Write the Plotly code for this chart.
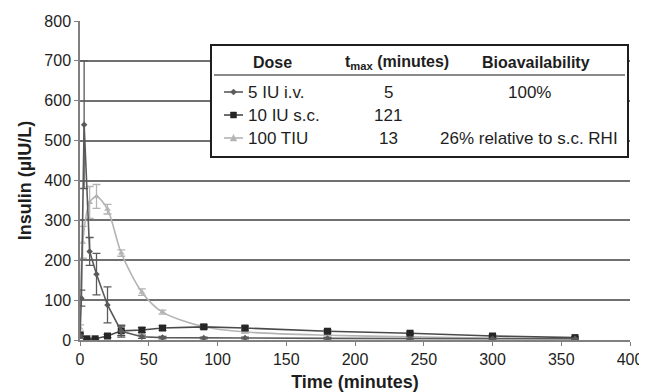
import plotly.graph_objects as go

# ---- data ----
iv_time = [0, 1, 3, 7, 12, 20, 30, 45, 60, 90, 120, 180, 240, 300, 360]
iv_insulin = [10, 105, 540, 222, 165, 88, 22, 8, 6, 5, 5, 4, 3, 3, 3]
iv_err = [4, 20, 160, 35, 52, 45, 15, 4, 3, 2, 2, 2, 1, 1, 1]

sc_time = [0, 5, 11, 20, 30, 45, 60, 90, 120, 180, 240, 300, 360]
sc_insulin = [12, 3, 3, 10, 23, 25, 30, 33, 30, 22, 17, 10, 6]
sc_err = [5, 2, 2, 4, 12, 6, 6, 5, 5, 4, 3, 3, 2]

tiu_time = [0, 2, 7, 12, 20, 30, 45, 60, 90, 120, 180, 240, 300, 360]
tiu_insulin = [30, 245, 345, 360, 328, 218, 120, 70, 33, 20, 12, 8, 5, 3]
tiu_err = [8, 40, 40, 30, 12, 8, 8, 5, 4, 3, 2, 2, 2, 1]

series_names = ["5 IU i.v.", "10 IU s.c.", "100 TIU"]
tmax_values = ["5", "121", "13"]
bioavail = ["100%", "", "26% relative to s.c. RHI"]
table_headers = ["Dose", "t<sub>max</sub> (minutes)", "Bioavailability"]

x_ticks = [0, 50, 100, 150, 200, 250, 300, 350, 400]
y_ticks = [0, 100, 200, 300, 400, 500, 600, 700, 800]

# ---- styles ----
IV_COL = "#5a5a5a"
SC_COL = "#262626"
SC_LINE = "#4a4a4a"
TIU_COL = "#b4b4b4"
GRID = "#707070"
FONT = "Liberation Sans, Arial, sans-serif"
TXT = "#1e1e1e"

# the page body adds an 8px margin, so the figure is made 8px smaller
OFF = 8
W, H = 647 - OFF, 392 - OFF
PX0, PX1, PY0, PY1 = 80, 630, 21, 340   # plot area in screenshot pixels
L, T = PX0 - OFF, PY0 - OFF
R, B = W - (PX1 - OFF), H - (PY1 - OFF)
PW, PH = PX1 - PX0, PY1 - PY0


def px(x):
    return (x - PX0) / PW


def py(y):
    return (PY1 - y) / PH


fig = go.Figure()

fig.add_trace(go.Scatter(
    x=tiu_time, y=tiu_insulin, mode="lines+markers", name=series_names[2],
    line=dict(color=TIU_COL, width=1.6, shape="spline", smoothing=0.8),
    marker=dict(symbol="triangle-up", size=6, color=TIU_COL),
    error_y=dict(type="data", array=tiu_err, color=TIU_COL, thickness=1.3, width=4),
))
fig.add_trace(go.Scatter(
    x=sc_time, y=sc_insulin, mode="lines+markers", name=series_names[1],
    line=dict(color=SC_LINE, width=1.6),
    marker=dict(symbol="square", size=7, color=SC_COL),
    error_y=dict(type="data", array=sc_err, color=SC_LINE, thickness=1.2, width=4),
))
fig.add_trace(go.Scatter(
    x=iv_time, y=iv_insulin, mode="lines+markers", name=series_names[0],
    line=dict(color=IV_COL, width=1.6),
    marker=dict(symbol="diamond", size=5, color=IV_COL),
    error_y=dict(type="data", array=iv_err, color=IV_COL, thickness=1.3, width=4),
))

shapes = []
annotations = []

# table box
bx0, bx1, by0, by1 = 211, 628, 45, 157
shapes.append(dict(type="rect", xref="paper", yref="paper",
                   x0=px(bx0), x1=px(bx1), y0=py(by1), y1=py(by0),
                   fillcolor="white", line=dict(color="#1e1e1e", width=2), layer="above"))
shapes.append(dict(type="line", xref="paper", yref="paper",
                   x0=px(214), x1=px(625), y0=py(75), y1=py(75),
                   line=dict(color="#8a8a8a", width=2), layer="above"))

col_x = [272, 397, 536]
header_y = 62
row_y = [92, 115, 138]

for cx, txt in zip(col_x, table_headers):
    annotations.append(dict(xref="paper", yref="paper", x=px(cx), y=py(header_y),
                            text="<b>" + txt + "</b>", showarrow=False,
                            font=dict(family=FONT, size=16, color=TXT),
                            xanchor="center", yanchor="middle"))

sym_cols = [(IV_COL, IV_COL), (SC_LINE, SC_COL), (TIU_COL, TIU_COL)]
for i, ry in enumerate(row_y):
    lc, mc = sym_cols[i]
    shapes.append(dict(type="line", xref="paper", yref="paper",
                       x0=px(224), x1=px(243), y0=py(ry), y1=py(ry),
                       line=dict(color=lc, width=1.6), layer="above"))
    cx, cy = px(233.5), py(ry)
    dx, dy = 3 / PW, 3 / PH
    if i == 0:
        path = f"M {cx-dx},{cy} L {cx},{cy+dy} L {cx+dx},{cy} L {cx},{cy-dy} Z"
    elif i == 1:
        path = f"M {cx-dx},{cy-dy} L {cx+dx},{cy-dy} L {cx+dx},{cy+dy} L {cx-dx},{cy+dy} Z"
    else:
        path = f"M {cx-dx*1.1},{cy-dy} L {cx+dx*1.1},{cy-dy} L {cx},{cy+dy*1.2} Z"
    shapes.append(dict(type="path", xref="paper", yref="paper", path=path,
                       fillcolor=mc, line=dict(color=mc, width=0.5), layer="above"))
    annotations.append(dict(xref="paper", yref="paper", x=px(246), y=py(ry),
                            text=series_names[i], showarrow=False,
                            font=dict(family=FONT, size=17, color=TXT),
                            xanchor="left", yanchor="middle"))
    annotations.append(dict(xref="paper", yref="paper", x=px(388), y=py(ry),
                            text=tmax_values[i], showarrow=False,
                            font=dict(family=FONT, size=17, color=TXT),
                            xanchor="center", yanchor="middle"))
    if bioavail[i]:
        annotations.append(dict(xref="paper", yref="paper", x=px(529), y=py(ry),
                                text=bioavail[i], showarrow=False,
                                font=dict(family=FONT, size=17, color=TXT),
                                xanchor="center", yanchor="middle"))

fig.update_layout(
    width=W, height=H,
    margin=dict(l=L, r=R, t=T, b=B, autoexpand=False),
    paper_bgcolor="white", plot_bgcolor="white",
    showlegend=False,
    font=dict(family=FONT, size=16, color=TXT),
    shapes=shapes, annotations=annotations,
)
fig.update_xaxes(
    range=[0, 400], tickvals=x_ticks, showgrid=False, zeroline=False, automargin=False,
    showline=True, linecolor="#808080", linewidth=1.5,
    ticks="outside", ticklen=4, tickcolor="#808080",
    tickfont=dict(family=FONT, size=16, color=TXT),
    title=dict(text="<b>Time (minutes)</b>", font=dict(family=FONT, size=18, color=TXT), standoff=8),
)
fig.update_yaxes(
    range=[0, 800], tickvals=y_ticks, showgrid=True, gridcolor=GRID, gridwidth=1.5,
    zeroline=False, automargin=False, showline=True, linecolor="#808080", linewidth=1.5,
    ticks="outside", ticklen=4, tickcolor="#808080",
    tickfont=dict(family=FONT, size=16, color=TXT),
    title=dict(text="<b>Insulin (µIU/L)</b>", font=dict(family=FONT, size=18, color=TXT), standoff=8),
)

fig.write_html("out.html")
